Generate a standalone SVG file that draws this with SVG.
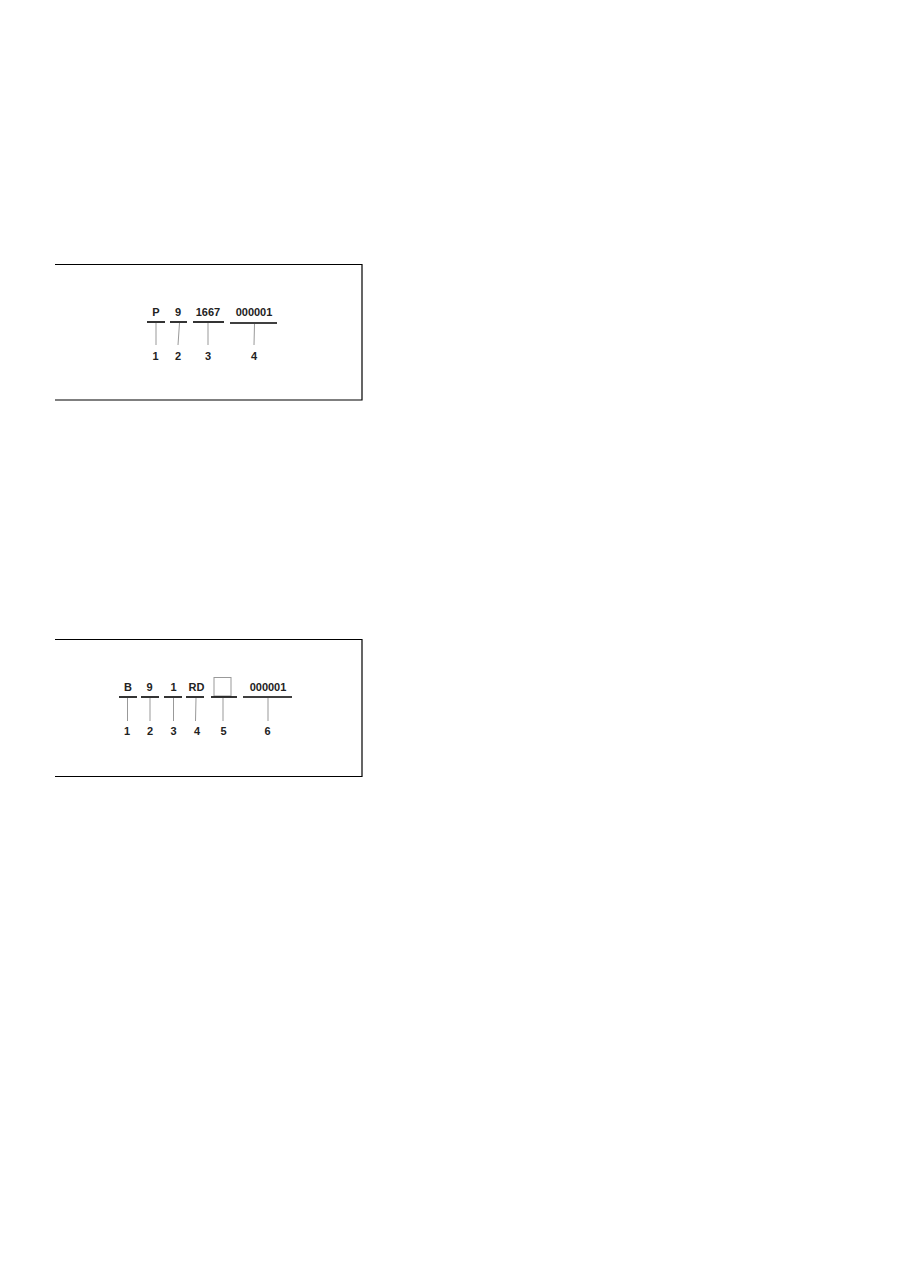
<svg xmlns="http://www.w3.org/2000/svg" width="910" height="1286" viewBox="0 0 910 1286">
<style>
.frame{fill:none;stroke:#000;stroke-width:1.2}
.ul{stroke:#000;stroke-width:1.6}
.ld{stroke:#999;stroke-width:1}
.t{font-family:"Liberation Sans",Arial,sans-serif;font-size:11px;font-weight:bold;fill:#222;text-anchor:middle}
</style>
<rect width="910" height="1286" fill="#fff"/>
<g id="box1">
<path class="frame" d="M55,264.5 H362 V400 H55"/>
<g id="fields1">
<text class="t" x="156" y="316">P</text>
<text class="t" x="178" y="316">9</text>
<text class="t" x="208" y="316">1667</text>
<text class="t" x="254" y="316">000001</text>
</g>
<g id="connectors1">
<line class="ul" x1="147" y1="322" x2="165" y2="322"/>
<line class="ul" x1="170" y1="322" x2="187" y2="322"/>
<line class="ul" x1="193" y1="322" x2="224" y2="322"/>
<line class="ul" x1="230" y1="323" x2="277" y2="323"/>
<line class="ld" x1="156" y1="323" x2="156" y2="345"/>
<line class="ld" x1="179.5" y1="323" x2="178" y2="345"/>
<line class="ld" x1="208" y1="323" x2="208" y2="345"/>
<line class="ld" x1="254.5" y1="324" x2="254" y2="345"/>
</g>
<g id="labels1">
<text class="t" x="155.5" y="360">1</text>
<text class="t" x="178" y="360">2</text>
<text class="t" x="208" y="360">3</text>
<text class="t" x="254" y="360">4</text>
</g>
</g>
<g id="box2">
<path class="frame" d="M55,639.5 H362 V776.5 H55"/>
<g id="fields2">
<text class="t" x="128" y="691">B</text>
<text class="t" x="149.5" y="691">9</text>
<text class="t" x="173.5" y="691">1</text>
<text class="t" x="196.5" y="691">RD</text>
<rect x="214" y="677.5" width="17" height="18.5" fill="#fff" stroke="#999" stroke-width="1"/>
<text class="t" x="268" y="691">000001</text>
</g>
<g id="connectors2">
<line class="ul" x1="119" y1="697" x2="137" y2="697"/>
<line class="ul" x1="141" y1="697" x2="159" y2="697"/>
<line class="ul" x1="164" y1="697" x2="182" y2="697"/>
<line class="ul" x1="186" y1="697" x2="204" y2="697"/>
<line class="ul" x1="211" y1="697" x2="237" y2="697" stroke-width="2"/>
<line class="ul" x1="243" y1="697" x2="292" y2="697"/>
<line class="ld" x1="127.5" y1="698" x2="127.5" y2="721"/>
<line class="ld" x1="150" y1="698" x2="150" y2="721"/>
<line class="ld" x1="173.5" y1="698" x2="173.5" y2="721"/>
<line class="ld" x1="196" y1="698" x2="195.5" y2="721"/>
<line class="ld" x1="223" y1="698" x2="223" y2="721"/>
<line class="ld" x1="268" y1="698" x2="268" y2="721"/>
</g>
<g id="labels2">
<text class="t" x="127" y="734.5">1</text>
<text class="t" x="150" y="734.5">2</text>
<text class="t" x="173.5" y="734.5">3</text>
<text class="t" x="197" y="734.5">4</text>
<text class="t" x="223.5" y="734.5">5</text>
<text class="t" x="267.5" y="734.5">6</text>
</g>
</g>
</svg>
